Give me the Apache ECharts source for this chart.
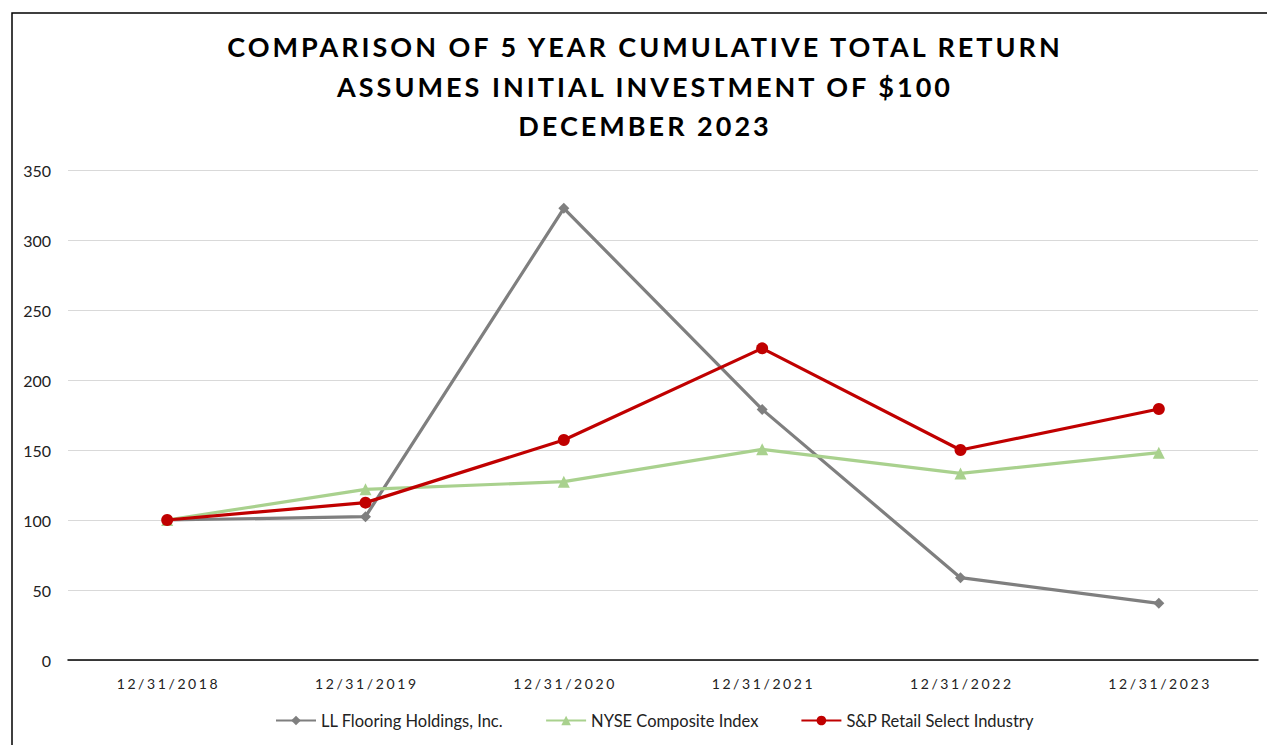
<!DOCTYPE html>
<html>
<head>
<meta charset="utf-8">
<script src="https://cdn.jsdelivr.net/npm/echarts@6/dist/echarts.min.js"></script>
<style>
html,body{margin:0;padding:0;background:#fff;}
#c{width:1267px;height:745px;}
</style>
</head>
<body>
<div id="c"></div>
<script>
const categories = ['12/31/2018','12/31/2019','12/31/2020','12/31/2021','12/31/2022','12/31/2023'];
const llFlooring = [100, 102.4, 322.6, 179.0, 58.8, 40.5];
const nyseComposite = [100, 121.9, 127.4, 150.5, 133.3, 148.1];
const spRetail = [100, 112.4, 157.1, 222.6, 150.0, 179.3];
const seriesNames = ['LL Flooring Holdings, Inc.', 'NYSE Composite Index', 'S&P Retail Select Industry'];
const titleLines = ['COMPARISON OF 5 YEAR CUMULATIVE TOTAL RETURN', 'ASSUMES INITIAL INVESTMENT OF $100', 'DECEMBER 2023'];

const chart = echarts.init(document.getElementById('c'), null, {renderer:'svg'});
const font = 'Lato, "Open Sans", sans-serif';
chart.setOption({
  backgroundColor:'#ffffff',
  animation:false,
  graphic:[{
    type:'rect', left:9.5, top:10.5, shape:{width:1300, height:800},
    style:{fill:'none', stroke:'#000', lineWidth:1.5}, silent:true
  }],
  title:{
    text: titleLines.join('\n'),
    left:'center', top:22,
    textStyle:{fontFamily:font, fontWeight:'bold', fontSize:27, color:'#000', lineHeight:39.5}
  },
  legend:{
    bottom:11, left:270,
    itemWidth:40, itemHeight:12, itemGap:42,
    textStyle:{fontFamily:font, fontSize:16.5, color:'#222'},
    data: seriesNames
  },
  grid:{left:68, right:9, top:170, bottom:85},
  xAxis:{
    type:'category', data:categories, boundaryGap:true,
    axisLine:{lineStyle:{color:'#000', width:1.5}},
    axisTick:{inside:true, length:5, lineStyle:{color:'#000'}},
    axisLabel:{fontFamily:font, fontSize:14, color:'#222', margin:16},
    splitLine:{show:false}
  },
  yAxis:{
    type:'value', min:0, max:350, interval:50,
    axisLine:{show:false}, axisTick:{show:false},
    axisLabel:{fontFamily:font, fontSize:16, color:'#222', margin:17},
    splitLine:{lineStyle:{color:'#d9d9d9', width:1}}
  },
  series:[
    {name:seriesNames[0], type:'line', data:llFlooring, symbol:'diamond', symbolSize:11,
     lineStyle:{color:'#7f7f7f', width:3.2}, itemStyle:{color:'#7f7f7f'}, z:2},
    {name:seriesNames[1], type:'line', data:nyseComposite, symbol:'triangle', symbolSize:12,
     lineStyle:{color:'#a9d18e', width:3.2}, itemStyle:{color:'#a9d18e'}, z:3},
    {name:seriesNames[2], type:'line', data:spRetail, symbol:'circle', symbolSize:12,
     lineStyle:{color:'#c00000', width:3.2}, itemStyle:{color:'#c00000'}, z:4}
  ]
});

// widen letter spacing on title and category labels (as in the reference)
function spaceText(matchList, spacing, offsetX) {
  const texts = document.querySelectorAll('#c svg text');
  texts.forEach(function (el) {
    const t = el.textContent;
    if (matchList.indexOf(t) < 0) return;
    const b0 = el.getBBox();
    const c0 = b0.x + b0.width / 2;
    el.style.letterSpacing = spacing + 'px';
    const b1 = el.getBBox();
    const c1 = b1.x + b1.width / 2 - spacing / 2;
    el.setAttribute('dx', (c0 - c1 + offsetX).toFixed(2));
  });
}
spaceText(titleLines, 3.0, 10);
spaceText(categories, 2.6, 0);
</script>
</body>
</html>
